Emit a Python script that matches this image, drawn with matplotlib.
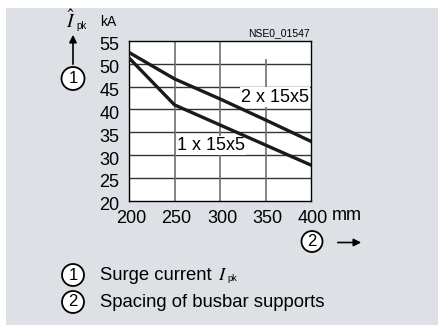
import matplotlib.pyplot as plt
import matplotlib.transforms as mtransforms
from matplotlib.patches import Rectangle, Circle, FancyArrowPatch

plt.rcParams['font.family'] = ['Liberation Sans', 'DejaVu Sans']
plt.rcParams['mathtext.fontset'] = 'stix'

# busbar support spacing (mm) vs permissible surge current (kA)
spacing = [200, 250, 300, 350, 400]
single_bar = [51.3, 41.0, 36.6, 32.2, 27.8]   # 1 x 15x5
double_bar = [52.5, 46.7, 42.3, 37.7, 33.0]   # 2 x 15x5
y_ticks = [20, 25, 30, 35, 40, 45, 50, 55]
x_ticks = [200, 250, 300, 350, 400]

W, H = 438, 325
fig = plt.figure(figsize=(W / 100, H / 100), dpi=100)
fig.patch.set_facecolor('white')
renderer = fig.canvas.get_renderer()


def fx(x):
    return x / W


def fy(y):
    return 1 - y / H


# grey panel
fig.patches.append(Rectangle((fx(6), 0), 1 - fx(6), fy(8), transform=fig.transFigure,
                             fc='#dde1e6', ec='none', zorder=-10))

ax = fig.add_axes([fx(129), fy(200.7), (311 - 129) / W, (200.7 - 41) / H])
ax.set_facecolor('white')
ax.set_xlim(200, 400)
ax.set_ylim(20, 55)

for y in y_ticks[1:-1]:
    ax.axhline(y, color='#333333', lw=1.0, zorder=1)
for x, top in zip([250, 300, 350], [55, 55, 51]):
    ax.vlines(x, 20, top, color='#707070', lw=1.2, zorder=1)

ax.plot(spacing, double_bar, color='#1a1a1a', lw=2.4, zorder=3)
ax.plot(spacing, single_bar, color='#1a1a1a', lw=2.4, zorder=3)

box = dict(fc='white', ec='none', pad=1)
ax.text(397.8, 42.7, '2 x 15x5', ha='right', va='center', fontsize=13, bbox=box, zorder=2)
ax.text(252.7, 32.1, '1 x 15x5', ha='left', va='center', fontsize=13, bbox=box, zorder=2)

ax.set_xticks(x_ticks)
ax.set_yticks(y_ticks)
ax.tick_params(length=0, labelsize=13, pad=7)
for sp in ax.spines.values():
    sp.set_linewidth(1.0)
    sp.set_color('black')

dy = mtransforms.ScaledTranslation(0, -0.03, fig.dpi_scale_trans)
for lab in ax.get_yticklabels():
    lab.set_transform(lab.get_transform() + dy)
dx = mtransforms.ScaledTranslation(0.02, 0, fig.dpi_scale_trans)
for lab in ax.get_xticklabels():
    lab.set_transform(lab.get_transform() + dx)

fig.text(fx(332), fy(216), 'mm', ha='left', va='center', fontsize=13)
fig.text(fx(108), fy(22), 'kA', ha='center', va='center', fontsize=10)
fig.text(fx(310), fy(33), 'NSE0_01547', ha='right', va='center', fontsize=7.5)


def ipk(x, y_base, size, sym=r'$I$'):
    # italic serif I followed by an upright sans "pk" subscript
    t = fig.text(fx(x), fy(y_base), sym, ha='left', va='baseline', fontsize=size)
    bb = t.get_window_extent(renderer)
    fig.text(bb.x1 / W + fx(0.5), fy(y_base + 1), 'pk', ha='left', va='baseline',
             fontsize=size * 0.5)
    return t


# axis symbol: I hat with subscript
ipk(66.5, 28, 14, r'$\hat{I}$')


def circled(x, y, s, r=11):
    fig.add_artist(Circle((x / 100, (H - y) / 100), r / 100, transform=fig.dpi_scale_trans,
                          fc='white', ec='black', lw=1.3))
    fig.text(fx(x), fy(y), s, ha='center', va='center', fontsize=12)


def arrow(x0, y0, x1, y1):
    fig.add_artist(FancyArrowPatch((fx(x0), fy(y0)), (fx(x1), fy(y1)), transform=fig.transFigure,
                                   arrowstyle='-|>', mutation_scale=11, lw=1.2, color='black'))


circled(73, 78.5, '1', r=11.5)
arrow(73, 67, 73, 32)
circled(312, 241.5, '2', r=10.5)
arrow(335, 242.5, 364, 242.5)

circled(73, 275, '1')
circled(73, 302, '2')
surge = fig.text(fx(100), fy(280), 'Surge current ', ha='left', va='baseline', fontsize=13.3)
sb = surge.get_window_extent(renderer)
ipk(sb.x1 + 1, 280, 13.3)
fig.text(fx(100), fy(307), 'Spacing of busbar supports', ha='left', va='baseline', fontsize=13.3)

fig.savefig('out.png', dpi=100)
